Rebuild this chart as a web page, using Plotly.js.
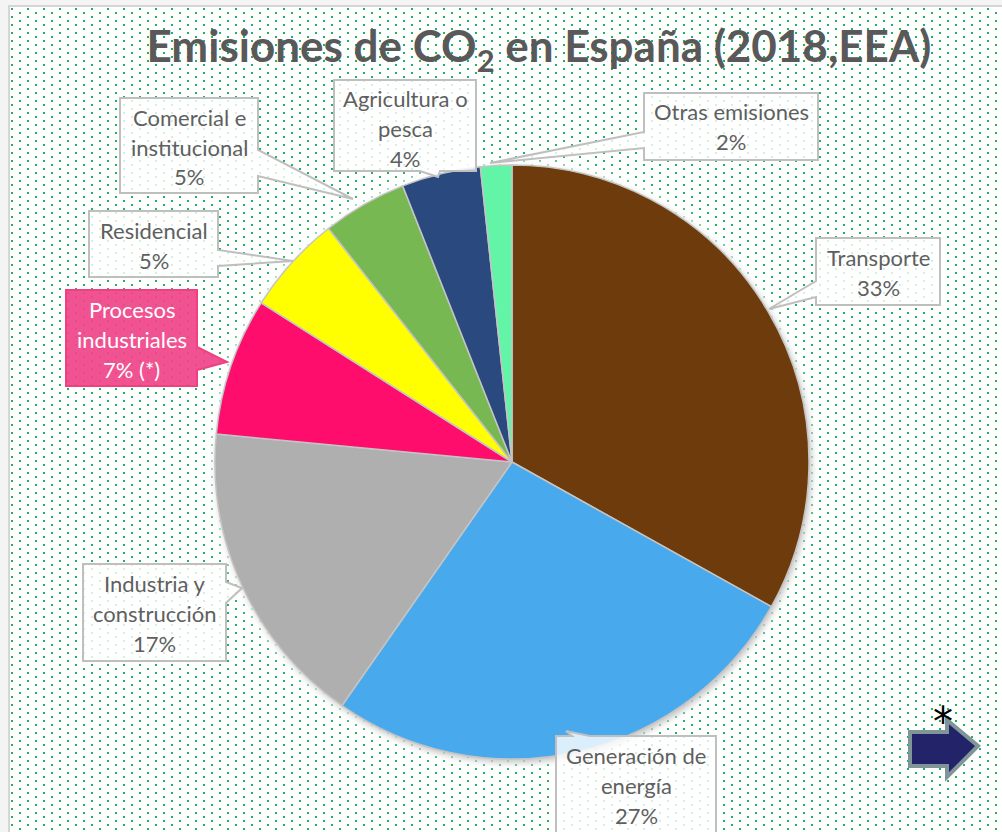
<!DOCTYPE html>
<html>
<head>
<meta charset="utf-8">
<script src="https://cdn.plot.ly/plotly-3.0.1.min.js"></script>
<style>
  html, body { margin: 0; padding: 0; background: #f2f2f2; }
  #wrap { position: relative; width: 1002px; height: 832px; overflow: hidden; background: #f4f4f4; }
  #bg {
    position: absolute; left: 8px; top: 5px; width: 994px; height: 827px;
    border-left: 2px solid #d6d6d6; border-top: 2px solid #d6d6d6;
    background-color: #ffffff;
    background-image:
      radial-gradient(circle, #1cb458 0.7px, rgba(255,255,255,0) 1.3px),
      radial-gradient(circle, #1cb458 0.7px, rgba(255,255,255,0) 1.3px);
    background-size: 16px 8px, 16px 8px;
    background-position: 2px 2px, 10px 6px;
  }
  #chart { position: absolute; left: 0; top: 0; width: 1002px; height: 832px; }
</style>
</head>
<body>
<div id="wrap">
  <div id="bg"></div>
  <div id="chart"></div>
</div>
<script>
// ---- data ----
const categories = ["Transporte", "Generación de energía", "Industria y construcción",
  "Procesos industriales", "Residencial", "Comercial e institucional",
  "Agricultura o pesca", "Otras emisiones"];
const values = [33.1, 26.6, 16.8, 7.5, 5.4, 4.6, 4.3, 1.7];
const shownPercents = ["33%", "27%", "17%", "7% (*)", "5%", "5%", "4%", "2%"];
const labelLines = [
  ["Transporte"],
  ["Generación de", "energía"],
  ["Industria y", "construcción"],
  ["Procesos", "industriales"],
  ["Residencial"],
  ["Comercial e", "institucional"],
  ["Agricultura o", "pesca"],
  ["Otras emisiones"]
];
const colors = ["#6e3b07", "#4aa9ed", "#afafaf", "#ff0a6c", "#ffff00", "#78b852", "#2b4a7e", "#62f5a8"];

// ---- layout helpers (pixel -> paper) ----
const W = 1002, H = 832;
const px = x => x / W;
const py = y => 1 - y / H;

const boxes = [
  {box: [816, 238, 940, 305], side: "left", tail: [[816, 281], [769, 309], [816, 297]]},
  {box: [556, 736, 716, 845], side: "top", tail: [[572, 736], [566, 731], [590, 736]]},
  {box: [83, 564, 226, 661], side: "right", tail: [[226, 582], [242, 588], [226, 603]]},
  {box: [66, 290, 197, 386], side: "right", tail: [[197, 347], [227, 362], [197, 370]]},
  {box: [89, 211, 218, 277], side: "right", tail: [[218, 250], [293, 261], [218, 266]]},
  {box: [120, 98, 258, 193], side: "right", tail: [[258, 150], [353, 199], [258, 176]]},
  {box: [334, 80, 476, 171], side: "bottom", tail: [[420, 171], [438, 177], [440, 171]]},
  {box: [644, 93, 818, 160], side: "left", tail: [[644, 132], [490, 163], [644, 148]]}
];

function calloutPath(b) {
  const [x0, y0, x1, y1] = b.box;
  const t = b.tail;
  const P = (x, y) => px(x).toFixed(5) + "," + py(y).toFixed(5);
  let pts = [];
  pts.push([x0, y0]);
  if (b.side === "top") { pts.push(t[0], t[1], t[2]); }
  pts.push([x1, y0]);
  if (b.side === "right") { pts.push(t[0], t[1], t[2]); }
  pts.push([x1, y1]);
  if (b.side === "bottom") { pts.push(t[2], t[1], t[0]); }
  pts.push([x0, y1]);
  if (b.side === "left") { pts.push(t[2], t[1], t[0]); }
  return "M" + pts.map(p => P(p[0], p[1])).join("L") + "Z";
}

const shapes = [];
const annotations = [];
const labelFont = "Lato, 'Open Sans', sans-serif";

boxes.forEach((b, i) => {
  const special = i === 3;
  shapes.push({
    type: "path", xref: "paper", yref: "paper", path: calloutPath(b),
    fillcolor: special ? "rgba(240,70,138,0.93)" : "rgba(255,255,255,0.8)",
    line: {color: special ? "#f0407f" : "#bfbfbf", width: 2}
  });
  const lines = labelLines[i].concat([shownPercents[i]]);
  const cx = (b.box[0] + b.box[2]) / 2;
  const startY = b.box[1] + 19;
  lines.forEach((ln, k) => {
    annotations.push({
      xref: "paper", yref: "paper", x: px(cx), y: py(startY + 30 * k),
      xanchor: "center", yanchor: "middle", showarrow: false, text: ln,
      font: {family: labelFont, size: 22, color: special ? "#ffffff" : "#5f5f5f"}
    });
  });
});

// navigation arrow with asterisk
shapes.push({
  type: "path", xref: "paper", yref: "paper",
  path: "M" + [[910, 732], [947, 732], [947, 720], [978, 746], [947, 777], [947, 766], [910, 766]]
    .map(p => px(p[0]).toFixed(5) + "," + py(p[1]).toFixed(5)).join("L") + "Z",
  fillcolor: "#23236a", line: {color: "#7f9597", width: 4}
});
annotations.push({
  xref: "paper", yref: "paper", x: px(943), y: py(722), xanchor: "center", yanchor: "middle",
  showarrow: false, text: "*", font: {family: "DejaVu Sans", size: 40, color: "#000000"}
});

const trace = {
  type: "pie",
  labels: categories,
  values: values,
  sort: false,
  direction: "clockwise",
  rotation: 0,
  textinfo: "none",
  hoverinfo: "label+percent",
  marker: {colors: colors, line: {color: "#c4c4c4", width: 1.5}},
  domain: {x: [(512 - 297) / W, (512 + 297) / W], y: [(H - 462 - 297) / H, (H - 462 + 297) / H]},
  showlegend: false
};

const layout = {
  width: W, height: H,
  margin: {l: 0, r: 0, t: 0, b: 0},
  paper_bgcolor: "rgba(0,0,0,0)",
  plot_bgcolor: "rgba(0,0,0,0)",
  showlegend: false,
  title: {
    text: "Emisiones de CO<sub>2</sub> en España (2018,EEA)",
    x: px(539), xanchor: "center", y: py(47), yanchor: "middle",
    font: {family: "Lato, 'Open Sans', sans-serif", size: 44, color: "#595959", weight: "bold"}
  },
  shapes: shapes,
  annotations: annotations
};

Plotly.newPlot("chart", [trace], layout, {displayModeBar: false, staticPlot: true}).then(gd => {
  const svg = gd.querySelector("svg.main-svg");
  const ns = "http://www.w3.org/2000/svg";
  let defs = svg.querySelector("defs");
  if (!defs) { defs = document.createElementNS(ns, "defs"); svg.insertBefore(defs, svg.firstChild); }
  const f = document.createElementNS(ns, "filter");
  f.setAttribute("id", "pieShadow");
  f.setAttribute("x", "-10%"); f.setAttribute("y", "-10%");
  f.setAttribute("width", "120%"); f.setAttribute("height", "120%");
  f.innerHTML =
    '<feMorphology in="SourceAlpha" operator="dilate" radius="3" result="d"/>' +
    '<feGaussianBlur in="d" stdDeviation="4" result="b"/>' +
    '<feFlood flood-color="#ffffff" flood-opacity="0.95" result="w"/>' +
    '<feComposite in="w" in2="b" operator="in" result="glow"/>' +
    '<feGaussianBlur in="SourceAlpha" stdDeviation="3" result="b2"/>' +
    '<feOffset in="b2" dx="2" dy="3" result="o2"/>' +
    '<feFlood flood-color="#7a7a7a" flood-opacity="0.55" result="g"/>' +
    '<feComposite in="g" in2="o2" operator="in" result="sh"/>' +
    '<feMerge><feMergeNode in="glow"/><feMergeNode in="sh"/><feMergeNode in="SourceGraphic"/></feMerge>';
  defs.appendChild(f);
  const pl = svg.querySelector(".pielayer");
  if (pl) pl.setAttribute("filter", "url(#pieShadow)");
});
</script>
</body>
</html>
